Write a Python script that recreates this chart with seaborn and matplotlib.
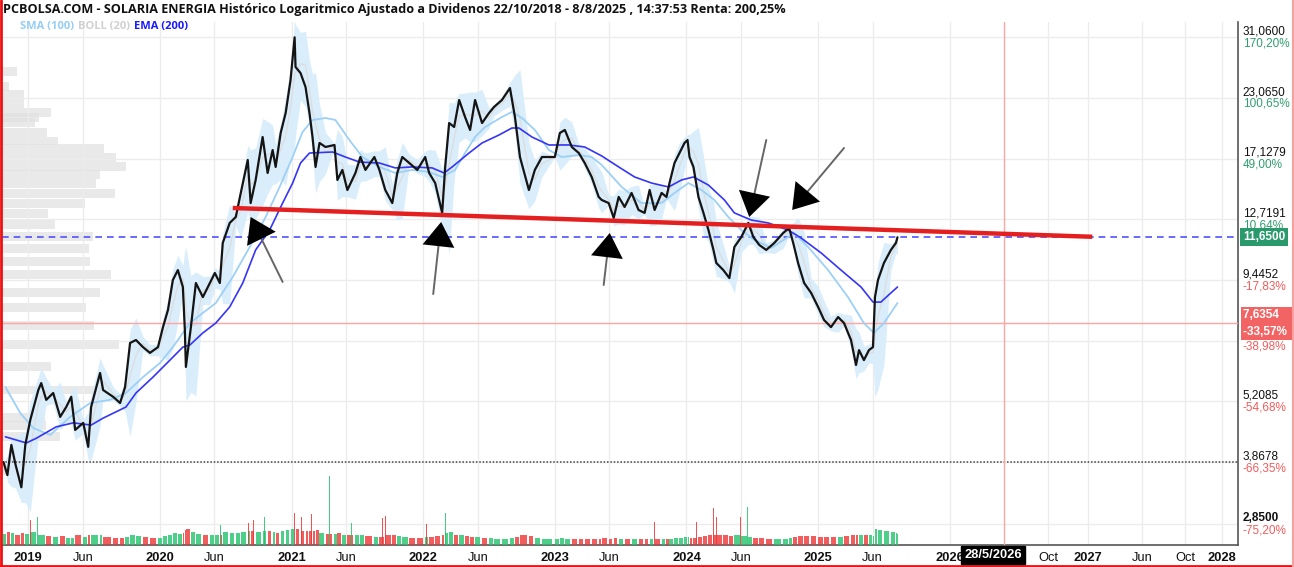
import numpy as np
import pandas as pd
import matplotlib
matplotlib.use('Agg')
import matplotlib.pyplot as plt
import seaborn as sns
from matplotlib.lines import Line2D
from matplotlib.ticker import NullLocator

# ---------------- data (time in decimal years) ----------------
price_t = [2018.811, 2018.841, 2018.871, 2018.902, 2018.947, 2018.977, 2019.015, 2019.076, 2019.098, 2019.136,
           2019.189, 2019.242, 2019.288, 2019.326, 2019.356, 2019.417, 2019.455, 2019.477, 2019.545, 2019.568,
           2019.644, 2019.697, 2019.735, 2019.773, 2019.818, 2019.871, 2019.924, 2019.985, 2020.023, 2020.061,
           2020.098, 2020.136, 2020.174, 2020.189, 2020.197, 2020.235, 2020.273, 2020.326, 2020.379, 2020.417,
           2020.455, 2020.477, 2020.530, 2020.576, 2020.614, 2020.667, 2020.689, 2020.727, 2020.780, 2020.818,
           2020.856, 2020.879, 2020.917, 2020.955, 2020.992, 2021.023, 2021.030, 2021.068, 2021.106, 2021.136,
           2021.159, 2021.182, 2021.212, 2021.258, 2021.326, 2021.348, 2021.386, 2021.424, 2021.485, 2021.523,
           2021.561, 2021.629, 2021.667, 2021.712, 2021.765, 2021.803, 2021.841, 2021.894, 2021.955, 2022.015,
           2022.045, 2022.091, 2022.144, 2022.167, 2022.197, 2022.235, 2022.273, 2022.318, 2022.356, 2022.394,
           2022.447, 2022.500, 2022.538, 2022.598, 2022.659, 2022.697, 2022.735, 2022.803, 2022.848, 2022.902,
           2023.000, 2023.038, 2023.076, 2023.129, 2023.182, 2023.227, 2023.280, 2023.333, 2023.356, 2023.409,
           2023.447, 2023.485, 2023.530, 2023.583, 2023.636, 2023.682, 2023.720, 2023.758, 2023.811, 2023.848,
           2023.871, 2023.909, 2023.947, 2023.985, 2024.008, 2024.023, 2024.053, 2024.091, 2024.129, 2024.167,
           2024.205, 2024.227, 2024.280, 2024.326, 2024.364, 2024.417, 2024.470, 2024.508, 2024.553, 2024.606,
           2024.667, 2024.735, 2024.780, 2024.811, 2024.848, 2024.894, 2024.947, 2025.000, 2025.045, 2025.098,
           2025.152, 2025.197, 2025.250, 2025.288, 2025.311, 2025.348, 2025.386, 2025.417, 2025.432, 2025.455,
           2025.500, 2025.553, 2025.591, 2025.603]
price_close = [3.87, 3.63, 4.21, 3.83, 3.42, 4.21, 4.76, 5.51, 5.70, 5.25,
               5.43, 4.83, 5.07, 5.33, 4.53, 4.69, 4.17, 5.07, 5.99, 5.51,
               5.33, 5.17, 5.59, 6.94, 7.04, 6.80, 6.61, 6.80, 7.50, 8.16,
               9.45, 9.92, 9.13, 7.40, 6.17, 7.50, 9.31, 8.69, 9.31, 9.78,
               9.31, 11.33, 12.50, 12.87, 14.48, 17.02, 13.78, 15.43, 19.05, 15.97,
               17.87, 16.45, 19.43, 21.43, 25.19, 31.06, 26.85, 26.07, 24.34, 21.43,
               19.05, 16.45, 18.50, 18.14, 18.32, 15.43, 16.21, 14.69, 15.97, 17.27,
               16.21, 17.27, 16.21, 14.69, 13.78, 15.97, 17.27, 16.77, 16.21, 17.27,
               15.97, 15.20, 13.13, 16.45, 20.40, 20.01, 22.84, 21.01, 19.72, 22.84,
               20.40, 21.43, 22.07, 22.84, 24.22, 21.01, 17.27, 14.69, 16.21, 17.27,
               17.27, 19.43, 19.72, 18.14, 17.61, 16.77, 15.66, 14.20, 13.99, 13.78,
               12.81, 14.20, 13.52, 14.48, 13.32, 13.13, 14.69, 13.32, 14.48, 14.20,
               15.20, 16.77, 17.61, 18.50, 18.77, 17.27, 16.45, 14.20, 13.13, 12.07,
               10.95, 10.27, 9.92, 9.54, 11.11, 11.67, 12.50, 11.67, 11.22, 10.95,
               11.33, 11.90, 12.19, 11.33, 10.27, 9.31, 8.87, 8.28, 7.77, 7.50,
               7.88, 7.65, 7.04, 6.23, 6.70, 6.38, 6.70, 6.80, 8.69, 9.45,
               10.27, 10.95, 11.33, 11.65]
volume_m = [1.4, 1.6, 1.5, 1.3, 1.5, 1.4, 1.6, 1.3, 1.2, 1.1,
            1.0, 1.1, 0.9, 0.9, 1.2, 1.0, 1.2, 1.3, 1.2, 1.0,
            0.9, 0.9, 1.0, 1.3, 1.1, 1.0, 0.9, 0.9, 1.1, 1.3,
            1.5, 1.4, 1.5, 1.9, 2.0, 1.6, 1.4, 1.2, 1.2, 1.3,
            1.3, 1.6, 1.5, 1.5, 1.6, 1.8, 1.7, 1.6, 1.8, 1.7,
            1.6, 1.5, 1.7, 1.9, 2.0, 2.2, 2.0, 1.8, 1.7, 1.7,
            1.8, 1.9, 1.5, 1.4, 1.4, 1.5, 1.3, 1.3, 1.2, 1.2,
            1.1, 1.0, 1.0, 1.2, 1.2, 1.1, 1.0, 0.9, 0.9, 1.0,
            1.0, 1.1, 1.3, 1.5, 1.6, 1.3, 1.2, 1.1, 1.0, 1.0,
            0.9, 0.9, 0.8, 0.8, 0.9, 1.0, 1.2, 1.1, 0.9, 0.8,
            0.8, 0.9, 0.8, 0.7, 0.7, 0.7, 0.8, 0.8, 0.9, 0.8,
            0.9, 0.8, 0.7, 0.7, 0.7, 0.7, 0.7, 0.7, 0.7, 0.7,
            0.8, 0.9, 0.9, 1.0, 1.0, 0.9, 0.9, 1.0, 1.1, 1.2,
            1.3, 1.3, 1.2, 1.1, 1.2, 1.1, 1.0, 0.9, 0.9, 0.8,
            0.8, 0.8, 0.9, 1.0, 1.1, 1.1, 1.1, 1.0, 1.0, 1.0,
            1.0, 1.1, 1.2, 1.3, 1.3, 1.2, 1.2, 1.1, 2.0, 1.9,
            1.7, 1.6, 1.5, 1.4]

spike_t = [2019.015, 2019.068, 2019.485, 2019.553, 2019.758, 2019.879, 2020.197, 2020.288, 2020.462, 2020.674,
           2020.712, 2020.795, 2021.023, 2021.076, 2021.152, 2021.288, 2021.455, 2021.689, 2021.712, 2022.023,
           2022.167, 2022.197, 2022.750, 2023.758, 2024.076, 2024.205, 2024.227, 2024.409, 2024.462, 2024.780,
           2024.909, 2025.182, 2025.250, 2025.356, 2025.432, 2025.455, 2025.530, 2025.583]
spike_vol = [3.1, 3.5, 2.5, 2.5, 4.1, 2.2, 3.0, 3.7, 2.5, 2.7,
             3.1, 3.5, 4.0, 3.5, 3.9, 8.6, 2.7, 3.4, 3.6, 2.6,
             4.0, 3.9, 3.0, 2.9, 2.9, 4.6, 3.5, 3.5, 4.7, 2.5,
             3.7, 4.7, 2.7, 3.4, 10.0, 4.1, 2.9, 2.6]
spike_up = [0, 1, 1, 0, 1, 0, 0, 1, 1, 0,
            0, 1, 0, 0, 0, 1, 1, 0, 0, 0,
            1, 1, 0, 0, 0, 0, 0, 0, 1, 0,
            0, 0, 0, 0, 1, 0, 1, 1]

sma_t = [2018.826, 2018.939, 2019.038, 2019.167, 2019.318, 2019.470, 2019.621, 2019.742, 2019.871, 2020.000,
         2020.098, 2020.227, 2020.326, 2020.424, 2020.553, 2020.682, 2020.803, 2020.909, 2021.008, 2021.083,
         2021.159, 2021.258, 2021.333, 2021.439, 2021.538, 2021.667, 2021.788, 2021.917, 2022.045, 2022.144,
         2022.242, 2022.318, 2022.394, 2022.470, 2022.598, 2022.674, 2022.750, 2022.848, 2022.955, 2023.053,
         2023.182, 2023.280, 2023.356, 2023.508, 2023.659, 2023.811, 2023.909, 2024.015, 2024.114, 2024.212,
         2024.318, 2024.417, 2024.515, 2024.644, 2024.773, 2024.818, 2024.924, 2025.076, 2025.227, 2025.348,
         2025.424, 2025.500, 2025.603]
sma_100 = [5.59, 4.92, 4.57, 4.42, 4.83, 5.17, 5.25, 5.43, 5.87, 6.29,
           6.80, 7.65, 8.04, 8.44, 9.59, 11.11, 12.87, 14.91, 17.27, 19.52,
           20.71, 20.91, 20.71, 18.77, 17.27, 16.45, 15.97, 16.21, 16.05, 15.66,
           16.21, 17.61, 19.05, 20.01, 21.01, 21.54, 20.91, 19.72, 17.87, 17.27,
           17.44, 17.27, 16.61, 14.91, 13.78, 13.78, 14.48, 15.20, 14.69, 13.99,
           12.87, 12.07, 11.50, 11.06, 11.67, 11.90, 11.11, 9.92, 8.69, 7.65,
           7.29, 7.65, 8.44]

ema_t = [2018.826, 2018.985, 2019.061, 2019.212, 2019.341, 2019.477, 2019.568, 2019.742, 2019.818, 2019.947,
         2020.076, 2020.174, 2020.227, 2020.326, 2020.424, 2020.530, 2020.629, 2020.727, 2020.833, 2020.932,
         2021.008, 2021.068, 2021.136, 2021.311, 2021.409, 2021.515, 2021.667, 2021.788, 2021.917, 2022.068,
         2022.159, 2022.220, 2022.348, 2022.447, 2022.576, 2022.674, 2022.727, 2022.826, 2022.955, 2023.106,
         2023.227, 2023.356, 2023.485, 2023.606, 2023.735, 2023.864, 2023.962, 2024.053, 2024.167, 2024.288,
         2024.364, 2024.492, 2024.621, 2024.773, 2024.871, 2025.023, 2025.174, 2025.326, 2025.417, 2025.477,
         2025.553, 2025.603]
ema_200 = [4.38, 4.25, 4.35, 4.60, 4.69, 4.64, 4.80, 5.07, 5.43, 5.87,
           6.38, 6.80, 6.87, 7.29, 7.65, 8.28, 9.31, 10.95, 12.07, 13.78,
           15.20, 16.77, 17.61, 17.70, 17.27, 16.85, 16.77, 16.37, 16.45, 16.37,
           15.97, 16.45, 17.61, 18.50, 19.24, 19.91, 19.91, 19.05, 18.32, 18.32,
           18.14, 17.36, 16.45, 15.66, 15.20, 14.91, 15.43, 15.66, 15.05, 13.99,
           13.13, 12.68, 12.50, 12.07, 11.61, 10.79, 9.92, 9.13, 8.48, 8.48,
           8.87, 9.13]

# volume profile (price level, relative volume)
profile_price = [26.24, 24.37, 23.41, 22.40, 21.44, 20.92, 20.41, 19.49, 18.68, 17.98,
                 17.24, 16.48, 15.84, 15.14, 14.45, 13.75, 13.09, 12.41, 11.70, 11.05,
                 10.34, 9.70, 8.90, 8.27, 7.56, 6.88, 6.19, 5.51, 4.81, 4.63,
                 4.39, 3.71]
profile_vol = [15, 7, 22, 22, 49, 37, 33, 45, 56, 102,
               114, 124, 98, 94, 113, 83, 46, 53, 91, 87,
               88, 109, 98, 84, 92, 117, 49, 92, 43, 44,
               58, 13]

# right axis ticks
tick_prices = [31.06, 23.065, 17.1279, 12.7191, 9.4452, 7.0136, 5.2085, 3.8678, 2.85]
tick_price_labels = ['31,0600', '23,0650', '17,1279', '12,7191', '9,4452', '', '5,2085', '3,8678', '2,8500']
tick_pct_labels = ['170,20%', '100,65%', '49,00%', '10,64%', '-17,83%', '-38,98%', '-54,68%', '-66,35%', '-75,20%']

last_price = 11.65
last_label = '11,6500'
cursor_price = 7.6354
cursor_label = '7,6354'
cursor_pct = '-33,57%'
cursor_date = 2026.41
cursor_date_label = '28/5/2026'
start_price = 3.8678

trend_t = [2020.553, 2027.083]
trend_p = [13.45, 11.68]

# arrows: (tail_t, tail_p, tip_t, tip_p)
arrows = [(2020.932, 9.36, 2020.689, 12.87),
          (2022.076, 8.82, 2022.136, 12.56),
          (2023.371, 9.22, 2023.417, 11.90),
          (2024.606, 18.77, 2024.477, 12.87),
          (2025.197, 18.05, 2024.803, 13.32)]

x_ticks = [2019.0, 2019.414, 2020.0, 2020.414, 2021.0, 2021.414, 2022.0, 2022.414, 2023.0, 2023.414,
           2024.0, 2024.414, 2025.0, 2025.414, 2026.0, 2026.748, 2027.05, 2027.46, 2027.79, 2028.07]
x_tick_labels = ['2019', 'Jun', '2020', 'Jun', '2021', 'Jun', '2022', 'Jun', '2023', 'Jun',
                 '2024', 'Jun', '2025', 'Jun', '2026', 'Oct', '2027', 'Jun', 'Oct', '2028']

title = ('PCBOLSA.COM - SOLARIA ENERGIA Histórico Logaritmico Ajustado a Dividenos '
         '22/10/2018 - 8/8/2025 , 14:37:53 Renta: 200,25%')
legend_labels = ['SMA (100)', 'BOLL (20)', 'EMA (200)']

# ---------------- figure ----------------
sns.set_theme(style='white')
plt.rcParams['font.family'] = ['Liberation Sans', 'DejaVu Sans']

W, H = 1294, 567
fig = plt.figure(figsize=(W / 100, H / 100), dpi=100)
fig.patch.set_facecolor('white')


def fx(px):
    return px / W


def fy(py):
    return 1 - py / H


L, R, T, B = 2, 1238, 22, 545
rect = [fx(L), fy(B), fx(R) - fx(L), fy(T) - fy(B)]
XMIN, XMAX = 2018.80, 2028.19
YMIN, YMAX = 2.577, 33.48

# volume profile on its own axes, beneath the price axes
axp = fig.add_axes(rect, zorder=0)
axp.set_yscale('log')
axp.set_ylim(YMIN, YMAX)
axp.set_xlim(0, max(profile_vol) * (R - L) / 124)
prof = np.array(profile_price)
half = 0.022
axp.barh(prof * np.exp(-half), profile_vol, height=prof * np.exp(half) - prof * np.exp(-half),
         align='edge', color='#e0e0e0', alpha=0.7, lw=0)
axp.axis('off')

ax = fig.add_axes(rect, zorder=1)
ax.patch.set_visible(False)
ax.set_yscale('log')
ax.set_axisbelow(True)

tt = np.array(price_t)
pp = np.array(price_close)

# bollinger band (20) computed from closes, trailing window
mid, up, lo = [], [], []
for i in range(len(tt)):
    m = (tt >= tt[i] - 0.085) & (tt <= tt[i])
    v = pp[m]
    mu, sd = v.mean(), v.std()
    mid.append(mu)
    up.append(mu + 2 * sd)
    lo.append(max(mu - 2 * sd, 0.5))
ax.fill_between(tt, lo, up, color='#d6ecfb', alpha=0.9, lw=0, zorder=2)
sns.lineplot(x=tt, y=mid, ax=ax, color='#dcdcdc', lw=0.9, estimator=None, sort=False, zorder=3)

# moving averages
sns.lineplot(x=sma_t, y=sma_100, ax=ax, color='#9dd0f6', lw=1.3, estimator=None, sort=False, zorder=4)
sns.lineplot(x=ema_t, y=ema_200, ax=ax, color='#3535f5', lw=1.2, estimator=None, sort=False, zorder=4)

# reference lines
ax.axhline(last_price, color='#5050ff', ls=(0, (4, 3)), lw=1.2, zorder=3)
ax.axhline(start_price, color='#444444', ls=(0, (1, 1.2)), lw=1.1, zorder=3)
ax.axhline(cursor_price, color='#ffa3a3', lw=1.0, zorder=3)
ax.axvline(cursor_date, color='#ffa3a3', lw=1.0, zorder=3)

# price
sns.lineplot(x=tt, y=pp, ax=ax, color='#141414', lw=1.6, estimator=None, sort=False, zorder=5)

# trend line
ax.plot(trend_t, trend_p, color='#e3201f', lw=3.2, solid_capstyle='butt', zorder=6)

# arrows
for (a_t, a_p, b_t, b_p) in arrows:
    ax.annotate('', xy=(b_t, b_p), xytext=(a_t, a_p),
                arrowprops=dict(arrowstyle='-', color='#666666', lw=1.4, shrinkA=0, shrinkB=8), zorder=7)
    ax.annotate('', xy=(b_t, b_p), xytext=(a_t, a_p),
                arrowprops=dict(arrowstyle='-|>,head_length=1.75,head_width=1.15', color='black',
                                lw=0, shrinkA=0, shrinkB=0, mutation_scale=10), zorder=8)

ax.set_xlim(XMIN, XMAX)
ax.set_ylim(YMIN, YMAX)

# grid / ticks
ax.set_yticks(tick_prices)
ax.yaxis.set_minor_locator(NullLocator())
ax.set_xticks(x_ticks)
ax.set_xticklabels(x_tick_labels)
for lab in ax.get_xticklabels():
    lab.set_fontsize(9.3)
    if lab.get_text()[:1].isdigit():
        lab.set_fontweight('bold')
ax.tick_params(axis='x', length=0, pad=5, colors='#111111')
ax.tick_params(axis='y', length=0, labelleft=False, labelright=False)
ax.grid(True, color='#ececec', lw=1.0)
for s in ['top', 'left']:
    ax.spines[s].set_visible(False)
for s in ['right', 'bottom']:
    ax.spines[s].set_color('#555555')
    ax.spines[s].set_linewidth(1.2)
ax.set_xlabel('')
ax.set_ylabel('')

# right axis labels
for p, pl, pc in zip(tick_prices, tick_price_labels, tick_pct_labels):
    if pl:
        ax.annotate(pl, xy=(1, p), xycoords=('axes fraction', 'data'), xytext=(3.5, 4.3),
                    textcoords='offset points', ha='left', va='center', fontsize=8.5,
                    color='#111111', fontweight='bold' if pl == '2,8500' else 'normal', annotation_clip=False)
    ax.annotate(pc, xy=(1, p), xycoords=('axes fraction', 'data'), xytext=(3.5, -4.3),
                textcoords='offset points', ha='left', va='center', fontsize=8.5,
                color='#2f9e6e' if not pc.startswith('-') else '#f25c5c', annotation_clip=False)

ax.annotate(last_label, xy=(1, last_price), xycoords=('axes fraction', 'data'), xytext=(3.5, 0),
            textcoords='offset points', ha='left', va='center', fontsize=8.5, fontweight='bold',
            color='white', annotation_clip=False, zorder=10,
            bbox=dict(boxstyle='square,pad=0.25', fc='#2a9a6c', ec='none'))
ax.annotate(cursor_label + '    ', xy=(1, cursor_price), xycoords=('axes fraction', 'data'), xytext=(3.5, 5.8),
            textcoords='offset points', ha='left', va='center', fontsize=8.5, fontweight='bold',
            color='white', annotation_clip=False, zorder=10,
            bbox=dict(boxstyle='square,pad=0.2', fc='#f26464', ec='none'))
ax.annotate(cursor_pct + ' ', xy=(1, cursor_price), xycoords=('axes fraction', 'data'), xytext=(3.5, -5.8),
            textcoords='offset points', ha='left', va='center', fontsize=8.5, fontweight='bold',
            color='white', annotation_clip=False, zorder=10,
            bbox=dict(boxstyle='square,pad=0.2', fc='#f26464', ec='none'))

# volume panel
axv = fig.add_axes([fx(L), fy(B), fx(R) - fx(L), fy(465) - fy(B)], zorder=2)
axv.set_xlim(XMIN, XMAX)
axv.set_ylim(0, max(spike_vol))
widths = np.append(np.diff(tt), 0.004) * 0.75
vcol = ['#22c46c' if i == 0 or pp[i] >= pp[i - 1] else '#ee3535' for i in range(len(tt))]
axv.bar(tt, volume_m, width=widths, align='edge', color=vcol, alpha=0.8, lw=0)
scol = ['#22c46c' if u else '#ee3535' for u in spike_up]
axv.bar(spike_t, spike_vol, width=0.005, color=scol, alpha=0.85, lw=0)
axv.axis('off')
axv.patch.set_visible(False)

# title and legend
fig.text(fx(3), fy(10), title, fontsize=9.1, fontweight='bold', color='#111111',
         ha='left', va='center', family=['Open Sans', 'DejaVu Sans'])
renderer = fig.canvas.get_renderer()
leg_colors = ['#95cdf5', '#d0d0d0', '#1a1aff']
xpos = 20
for lab, col in zip(legend_labels, leg_colors):
    t = fig.text(fx(xpos), fy(27), lab, fontsize=8.0, fontweight='bold', color=col, ha='left', va='center',
                 family=['Open Sans', 'DejaVu Sans'])
    xpos += t.get_window_extent(renderer).width + 4

# cursor date box
fig.text(fx(993), fy(555), cursor_date_label, fontsize=9.3, fontweight='bold', color='white',
         ha='center', va='center', zorder=10,
         bbox=dict(boxstyle='square,pad=0.25', fc='black', ec='black'))

# frame border
fig.add_artist(Line2D([0.0008, 0.0008], [0, 1], color='#ee1111', lw=2, transform=fig.transFigure))
fig.add_artist(Line2D([0, 1], [fy(565.5), fy(565.5)], color='#ee1111', lw=2, transform=fig.transFigure))
fig.add_artist(Line2D([fx(1292.5), fx(1292.5)], [0, 1], color='#f7a0a0', lw=1.5, transform=fig.transFigure))

fig.savefig('out.png', dpi=100, facecolor='white')
